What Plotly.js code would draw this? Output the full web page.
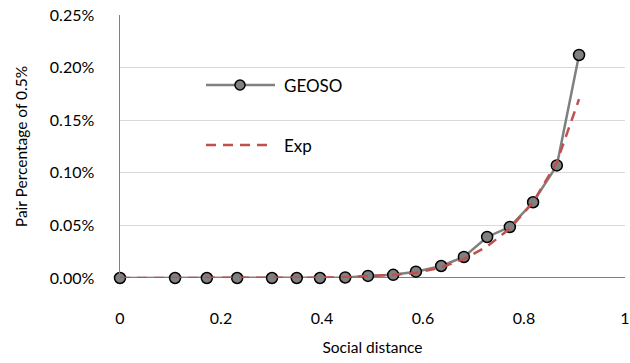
<!DOCTYPE html>
<html><head><meta charset="utf-8">
<script src="https://cdn.plot.ly/plotly-3.0.1.min.js"></script>
<style>body{margin:0}#c{width:630px;height:363px}</style></head>
<body><div id="c"></div>
<script>
const distance = [0, 0.109, 0.172, 0.232, 0.301, 0.350, 0.396, 0.446, 0.491, 0.541, 0.586, 0.636, 0.681, 0.727, 0.772, 0.818, 0.865, 0.909];
const geoso = [0, 0, 0, 0, 0, 0, 0, 0.000005, 0.00002, 0.00003, 0.00006, 0.000114, 0.0002, 0.00039, 0.000485, 0.00072, 0.00107, 0.00212];
const expFit = [0, 0, 0, 0, 0, 0, 0.000003, 0.000008, 0.000016, 0.00003, 0.00005, 0.0001, 0.00018, 0.0003, 0.00047, 0.00072, 0.0011, 0.0017];
const xTicks = [0, 0.2, 0.4, 0.6, 0.8, 1];
const yTicks = [0, 0.0005, 0.001, 0.0015, 0.002, 0.0025];
const seriesNames = ['GEOSO', 'Exp'];

const font = "Lato, 'Open Sans', sans-serif";
const grey = '#808080', red = '#C0504D';
const dashPat = '10px,7px';
const traces = [
  {x: distance, y: geoso, name: seriesNames[0], mode: 'lines+markers', cliponaxis: false,
   line: {color: grey, width: 2.5},
   marker: {size: 11, color: grey, line: {color: '#000', width: 1.5}}},
  {x: distance, y: expFit, name: seriesNames[1], mode: 'lines', cliponaxis: false,
   line: {color: red, width: 2.5, dash: dashPat}}
];
// legend drawn in paper coordinates
const L = 120, W = 505, T = 15, H = 263;
const px = v => (v - L) / W, py = v => 1 - (v - T) / H;
const layout = {
  width: 630, height: 363,
  margin: {l: L, r: 5, t: T, b: 85},
  paper_bgcolor: '#fff', plot_bgcolor: '#fff',
  font: {family: font, size: 16, color: '#000'},
  showlegend: false,
  xaxis: {range: [0, 1], tickvals: xTicks, ticktext: xTicks.map(String), showgrid: false,
          zeroline: false, showline: false, ticks: '', ticklabelstandoff: 29,
          tickfont: {size: 16},
          title: {text: 'Social distance', font: {size: 15.5}, standoff: 16}},
  yaxis: {range: [0, 0.0025], tickvals: yTicks, tickformat: '.2%', showgrid: true,
          gridcolor: '#d9d9d9', gridwidth: 1, zeroline: false, showline: true,
          linecolor: grey, linewidth: 1.5, ticks: '', ticklabelstandoff: 21,
          tickfont: {size: 16},
          title: {text: 'Pair Percentage of 0.5%', font: {size: 15.5}, standoff: 18}},
  shapes: [
    {type: 'line', xref: 'paper', yref: 'y', x0: 0, x1: 1, y0: 0, y1: 0,
     line: {color: grey, width: 2}, layer: 'below'},
    {type: 'line', xref: 'paper', yref: 'paper', x0: px(206), x1: px(275), y0: py(85), y1: py(85),
     line: {color: grey, width: 2.5}},
    {type: 'circle', xref: 'paper', yref: 'paper', x0: px(235), x1: px(245), y0: py(80), y1: py(90),
     fillcolor: grey, line: {color: '#000', width: 1.5}},
    {type: 'line', xref: 'paper', yref: 'paper', x0: px(206), x1: px(274), y0: py(145), y1: py(145),
     line: {color: red, width: 2.5, dash: dashPat}}
  ],
  annotations: [
    {xref: 'paper', yref: 'paper', x: px(282), y: py(85), xanchor: 'left', yanchor: 'middle',
     text: seriesNames[0], showarrow: false, font: {size: 17}},
    {xref: 'paper', yref: 'paper', x: px(282), y: py(145), xanchor: 'left', yanchor: 'middle',
     text: seriesNames[1], showarrow: false, font: {size: 17}}
  ]
};
Plotly.newPlot('c', traces, layout, {displayModeBar: false, staticPlot: true});
</script></body></html>
